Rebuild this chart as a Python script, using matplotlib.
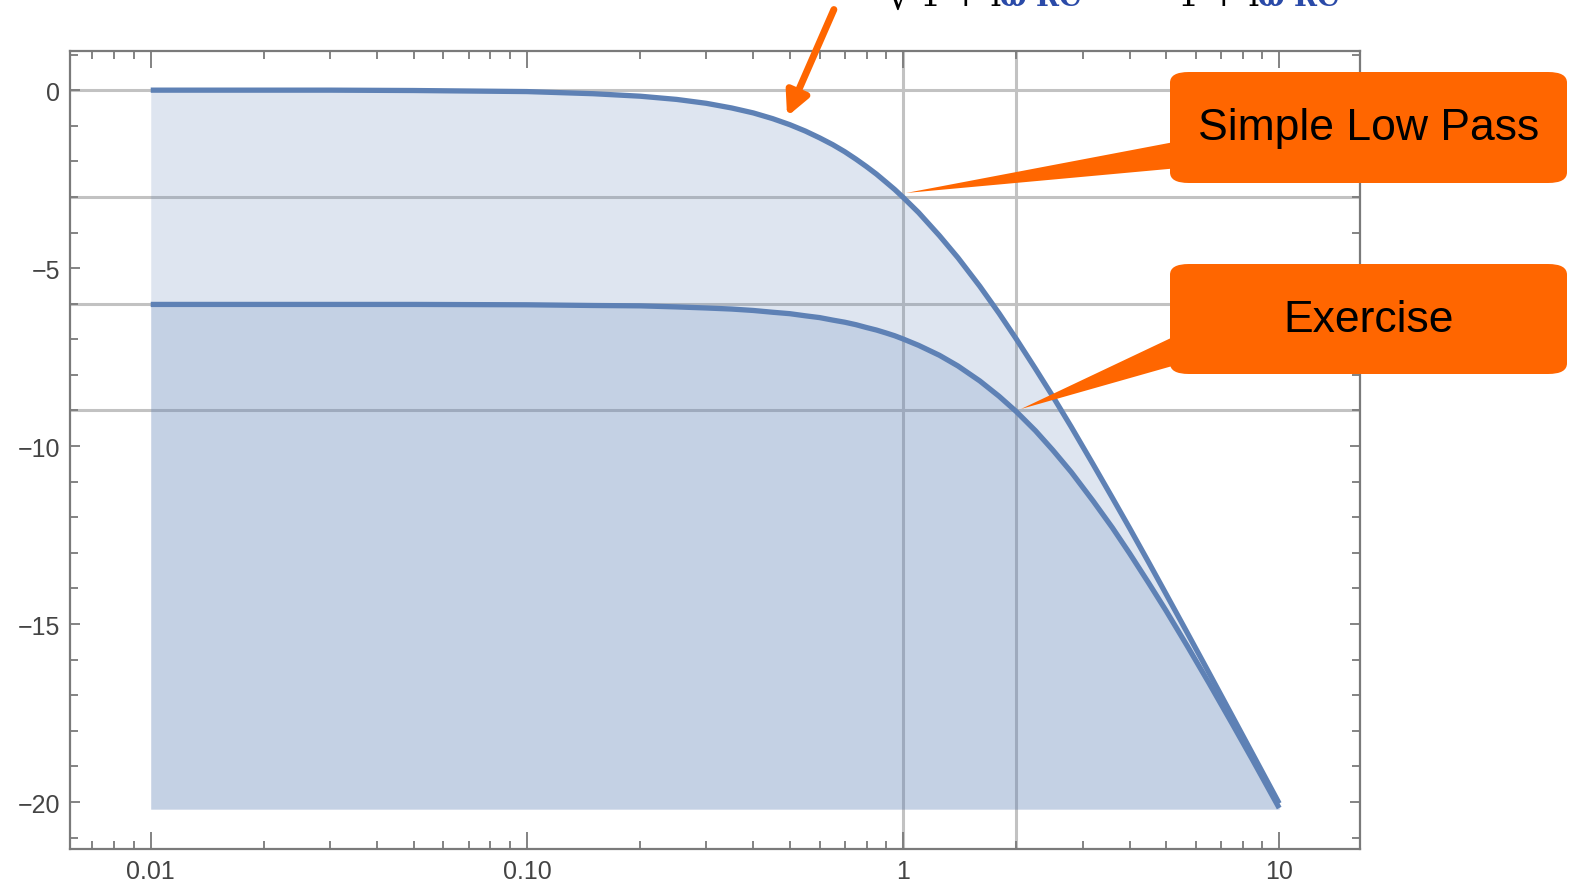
import matplotlib
matplotlib.use("Agg")
from matplotlib import pyplot as plt
from matplotlib.patches import FancyBboxPatch, Polygon, FancyArrowPatch
from matplotlib.ticker import LogLocator, FixedLocator, NullFormatter, MultipleLocator
import numpy as np

# frequency (log axis) and gain in dB
omega = [0.01, 0.03, 0.05, 0.1, 0.15, 0.2, 0.25, 0.3, 0.35, 0.4, 0.45, 0.5, 0.55, 0.6,
         0.65, 0.7, 0.75, 0.8, 0.85, 0.9, 0.95, 1.0, 1.1, 1.25, 1.4, 1.6, 1.8, 2.0,
         2.25, 2.5, 2.8, 3.2, 3.6, 4.0, 4.5, 5.0, 5.7, 6.5, 7.5, 8.5, 10.0]
gain_simple = [0.0, 0.0, -0.01, -0.04, -0.10, -0.17, -0.26, -0.37, -0.50, -0.64, -0.80,
               -0.97, -1.15, -1.34, -1.53, -1.73, -1.94, -2.15, -2.36, -2.58, -2.79,
               -3.01, -3.44, -4.09, -4.71, -5.51, -6.27, -6.99, -7.83, -8.60, -9.46,
               -10.51, -11.45, -12.30, -13.27, -14.15, -15.25, -16.36, -17.58, -18.65,
               -20.04]
gain_exercise = [-6.02, -6.02, -6.02, -6.03, -6.05, -6.06, -6.09, -6.12, -6.15, -6.19,
                 -6.24, -6.28, -6.34, -6.39, -6.46, -6.52, -6.59, -6.67, -6.74, -6.82,
                 -6.90, -6.99, -7.17, -7.45, -7.75, -8.17, -8.60, -9.03, -9.57, -10.11,
                 -10.73, -11.54, -12.29, -13.01, -13.85, -14.62, -15.62, -16.65, -17.80,
                 -18.82, -20.17]
fill_floor = -20.2

h_grid = [0, -3, -6, -9]
v_grid = [1, 2]
x_ticks = [0.01, 0.1, 1, 10]
x_labels = ["0.01", "0.10", "1", "10"]
y_ticks = [0, -5, -10, -15, -20]
y_labels = ["0", "\u22125", "\u221210", "\u221215", "\u221220"]

blue = "#5E81B5"
orange = "#FF6600"
frame = "#7a7a7a"

W, H = 1573, 887
fig = plt.figure(figsize=(W / 100, H / 100), dpi=100)
ax = fig.add_axes([70 / W, 1 - 850 / H, (1360 - 70) / W, (850 - 52) / H])

ax.set_xscale("log")
ax.set_xlim(0.0061, 16.4)
ax.set_ylim(-21.32, 1.1)

for g in h_grid:
    ax.axhline(g, color="#c2c2c2", lw=2.2, zorder=1)
for g in v_grid:
    ax.axvline(g, color="#c2c2c2", lw=2.2, zorder=1)

ax.fill_between(omega, gain_simple, fill_floor, color=blue, alpha=0.2, lw=0, zorder=2)
ax.fill_between(omega, gain_exercise, fill_floor, color=blue, alpha=0.2, lw=0, zorder=2)
ax.plot(omega, gain_simple, color=blue, lw=3.8, solid_capstyle="butt", zorder=3)
ax.plot(omega, gain_exercise, color=blue, lw=3.8, solid_capstyle="butt", zorder=3)

# frame with inward ticks on all four sides
for s in ax.spines.values():
    s.set_color(frame)
    s.set_linewidth(1.6)
ax.xaxis.set_major_locator(FixedLocator(x_ticks))
ax.xaxis.set_minor_locator(LogLocator(base=10, subs=np.arange(2, 10), numticks=20))
ax.xaxis.set_minor_formatter(NullFormatter())
ax.set_xticks(x_ticks)
ax.set_xticklabels(x_labels)
ax.set_yticks(y_ticks)
ax.set_yticklabels(y_labels)
ax.yaxis.set_minor_locator(MultipleLocator(1))
ax.tick_params(which="both", direction="in", top=True, right=True, color=frame,
               width=1.3, labelsize=18, labelcolor="#444444")
ax.tick_params(which="major", length=12, pad=7)
ax.tick_params(which="minor", length=6)
ax.tick_params(axis="y", which="major", length=7)
for lab in ax.get_xticklabels() + ax.get_yticklabels():
    lab.set_family("Liberation Sans")

# callout boxes
def px(x, y):
    return (x / W, 1 - y / H)

def callout(text, box, tip, base):
    x0, y0, x1, y1 = box
    wedge = Polygon([px(*tip), px(x0 + 20, base[0]), px(x0 + 20, base[1])],
                    closed=True, transform=fig.transFigure, color=orange, lw=0)
    fig.patches.append(wedge)
    rect = FancyBboxPatch(px(x0, y1), (x1 - x0) / W, (y1 - y0) / H,
                          boxstyle="round,pad=0,rounding_size=0.012",
                          transform=fig.transFigure, fc=orange, ec="none")
    fig.patches.append(rect)
    cx, cy = px((x0 + x1) / 2, (y0 + y1) / 2)
    fig.text(cx, cy, text, ha="center", va="center", fontsize=32,
             family="Liberation Sans", color="black")

callout("Simple Low Pass", (1170, 73, 1567, 184), (906, 194), (140, 168))
callout("Exercise", (1170, 265, 1567, 375), (1021, 410), (330, 362))

arrow = FancyArrowPatch(px(835, 8), px(786, 120), transform=fig.transFigure,
                        arrowstyle="-|>,head_length=14,head_width=7",
                        color=orange, lw=5, mutation_scale=1)
fig.patches.append(arrow)

# formula fragments cut off at the top edge
def formula(x, y):
    fig.text(*px(x, y), "1 + i", fontsize=24, family="DejaVu Serif", color="black",
             ha="left", va="baseline")
    fig.text(*px(x + 80, y), "\u03c9 RC", fontsize=20, family="DejaVu Serif",
             color="#2a4aa8", ha="left", va="baseline", weight="bold")

fig.text(*px(888, 9), "\u221a", fontsize=26, family="DejaVu Serif", color="black",
         ha="left", va="baseline")
formula(920, 6)
formula(1178, 6)

fig.savefig("out.png", dpi=100)
